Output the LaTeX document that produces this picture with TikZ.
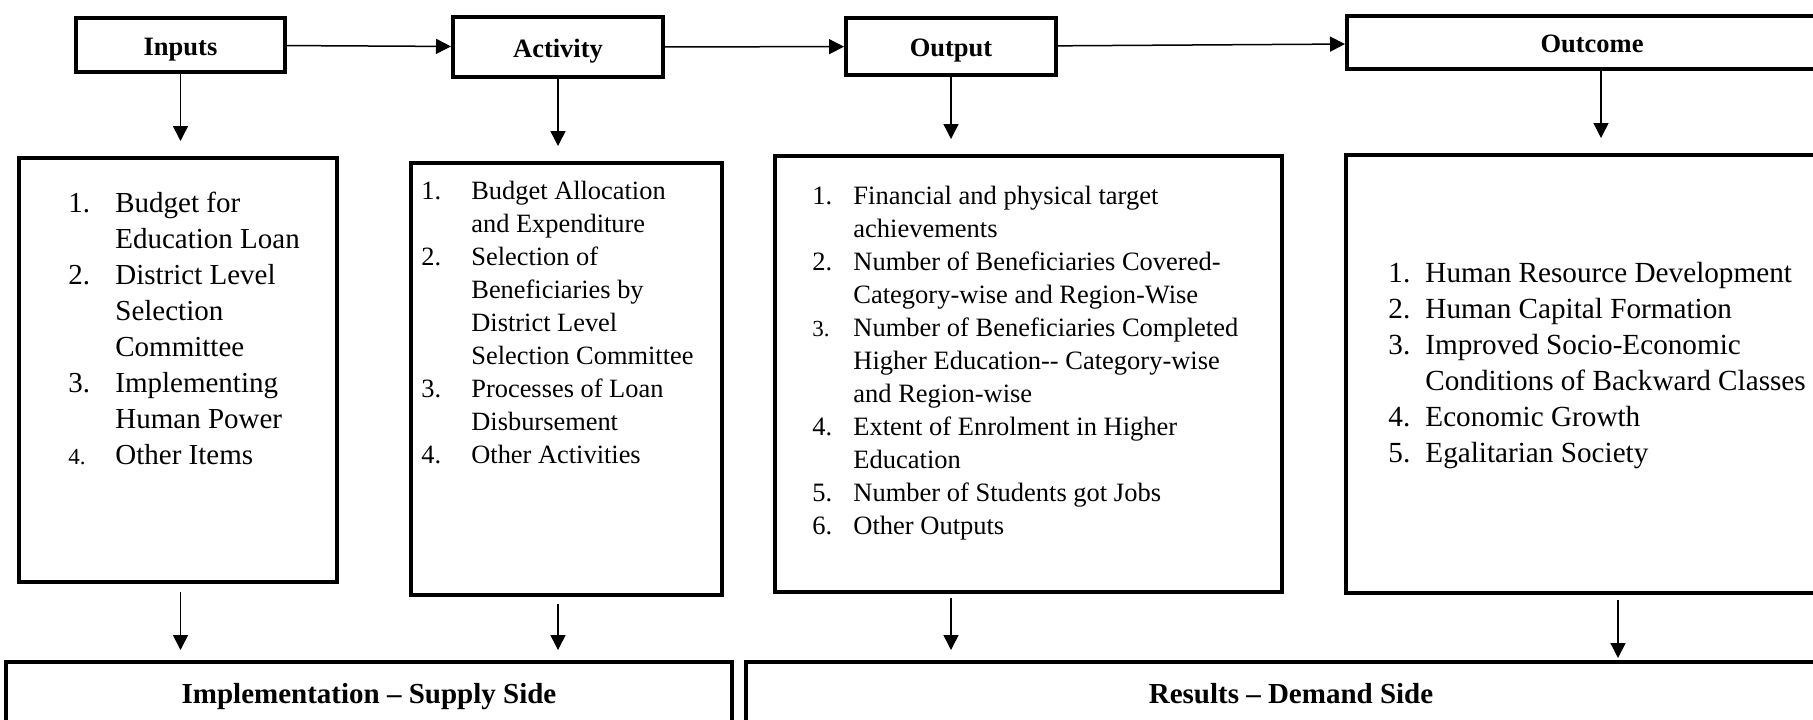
\documentclass[tikz,border=0pt]{standalone}
\usepackage{fontspec}
\setmainfont{Liberation Serif}
\usepackage{array}
\usetikzlibrary{arrows.meta}
\newcommand{\smallnum}[1]{{\fontsize{11.5}{14}\selectfont #1}}

\begin{document}
\begin{tikzpicture}[
    x=0.5pt, y=-0.5pt,
    stage/.style={
        draw,
        line width=2pt,
        inner sep=0pt,
        text height=10pt,
        text depth=0pt,
        font=\bfseries\fontsize{13.25}{16}\selectfont
    },
    listbox/.style={
        draw,
        line width=2pt,
        inner sep=0pt
    },
    listtext/.style={
        anchor=north west,
        inner sep=0pt
    },
    sidebox/.style={
        draw,
        line width=2pt,
        inner sep=0pt,
        minimum height=31pt,
        text height=10pt,
        text depth=0pt,
        font=\bfseries\fontsize{14.5}{17}\selectfont
    },
    edge/.style={-{Triangle[length=7.5pt,width=7.5pt]}, line width=0.75pt},
    down/.style={edge, shorten >=7.5pt}
]
\clip (0,0) rectangle (1813,719);

% stages
\node[stage, minimum width=104.5pt, minimum height=27pt] (inputs) at (180.5,45) {Inputs};
\node[stage, minimum width=105pt, minimum height=30pt] (activity) at (558,47) {Activity};
\node[stage, minimum width=105pt, minimum height=28.5pt] (output) at (951,46.5) {Output};
\node[stage, minimum width=245pt, minimum height=26.5pt] (outcome) at (1592,42.5) {Outcome};

% lists
\node[listbox, minimum width=159pt, minimum height=212pt] (inlist) at (178,370) {};
\node[listtext, font=\fontsize{14.5}{18}\selectfont] (inlisttext) at ([shift={(25.5pt,-15.4pt)}]inlist.north west) {%
\begin{tabular}{@{}p{23.5pt}@{}l@{}}
1. & Budget for\\
   & Education Loan\\
2. & District Level\\
   & Selection\\
   & Committee\\
3. & Implementing\\
   & Human Power\\
\smallnum{4.} & Other Items
\end{tabular}};

\node[listbox, minimum width=155.5pt, minimum height=216pt] (actlist) at (566.5,379) {};
\node[listtext, font=\fontsize{13.2}{16.5}\selectfont] (actlisttext) at ([shift={(6pt,-7.5pt)}]actlist.north west) {%
\begin{tabular}{@{}p{25pt}@{}l@{}}
1. & Budget Allocation\\
   & and Expenditure\\
2. & Selection of\\
   & Beneficiaries by\\
   & District Level\\
   & Selection Committee\\
3. & Processes of Loan\\
   & Disbursement\\
4. & Other Activities
\end{tabular}};

\node[listbox, minimum width=253.5pt, minimum height=218pt] (outlist) at (1028.5,374) {};
\node[listtext, font=\fontsize{13.25}{16.5}\selectfont] (outlisttext) at ([shift={(19.5pt,-13.5pt)}]outlist.north west) {%
\begin{tabular}{@{}p{20.5pt}@{}l@{}}
1. & Financial and physical target\\
   & achievements\\
2. & Number of Beneficiaries Covered-\\
   & Category-wise and Region-Wise\\
\smallnum{3.} & Number of Beneficiaries Completed\\
   & Higher Education-{}- Category-wise\\
   & and Region-wise\\
4. & Extent of Enrolment in Higher\\
   & Education\\
5. & Number of Students got Jobs\\
6. & Other Outputs
\end{tabular}};

\node[listbox, minimum width=247pt, minimum height=219pt] (outclist) at (1593,374) {};
\node[listtext, font=\fontsize{14.6}{18}\selectfont] (outclisttext) at ([shift={(22pt,-52pt)}]outclist.north west) {%
\begin{tabular}{@{}p{18.5pt}@{}l@{}}
1. & Human Resource Development\\
2. & Human Capital Formation\\
3. & Improved Socio-Economic\\
   & Conditions of Backward Classes\\
4. & Economic Growth\\
5. & Egalitarian Society
\end{tabular}};

% sides
\node[sidebox, minimum width=363pt] (impl) at (369,693) {Implementation -- Supply Side};
\node[sidebox, minimum width=545pt] (results) at (1291,693) {Results -- Demand Side};

% arrows
\draw[edge] (inputs) -- (activity);
\draw[edge] (activity) -- (output);
\draw[edge] (output) -- (outcome);

\draw[down] (inputs.south) -- (inputs.south |- inlist.north);
\draw[down] (activity.south) -- (activity.south |- actlist.north);
\draw[down] (output.south) -- (output.south |- outlist.north);
\draw[down] ([xshift=4.5pt]outcome.south) -- ([xshift=4.5pt]outcome.south |- outclist.north);

\draw[edge, shorten <=4pt, shorten >=5pt] (inputs |- inlist.south) -- (inputs |- impl.north);
\draw[edge, shorten <=3.5pt, shorten >=5pt] (activity |- actlist.south) -- (activity |- impl.north);
\draw[edge, shorten <=2pt, shorten >=5pt] (output |- outlist.south) -- (output |- results.north);
\draw[edge, shorten <=2.5pt, shorten >=1pt] ([xshift=12.5pt]outclist.south) -- ([xshift=12.5pt]outclist.south |- results.north);
\end{tikzpicture}
\end{document}
